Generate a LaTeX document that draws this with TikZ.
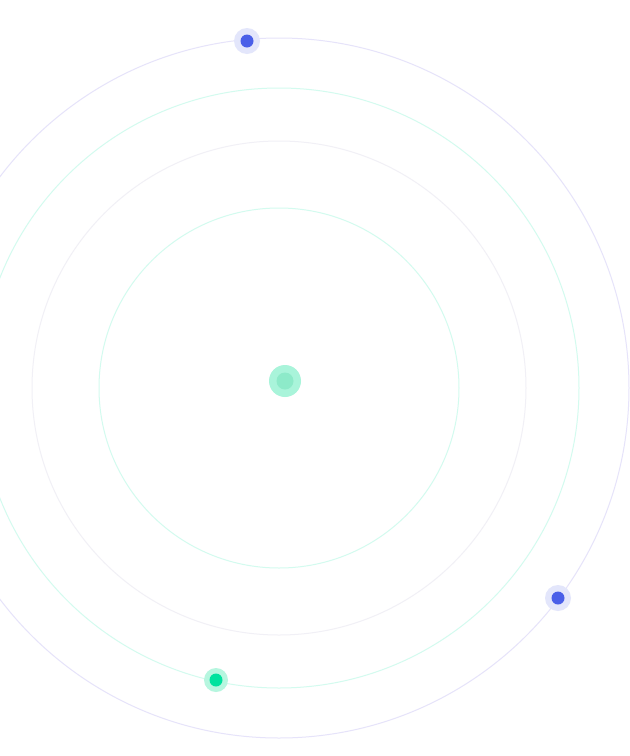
\documentclass[tikz,border=0pt]{standalone}
\begin{document}
\begin{tikzpicture}[x=1pt,y=-1pt,
  ring/.style={line width=1pt},
  halo/.style={circle,inner sep=0pt,minimum size=#1},
  ]
\definecolor{lav}{HTML}{E6E3FA}
\definecolor{mint}{HTML}{D3FBEF}
\definecolor{grayring}{HTML}{F1F0F6}
\definecolor{bluedot}{HTML}{4A5FE8}
\definecolor{bluehalo}{HTML}{E3E6FB}
\definecolor{greendot}{HTML}{00E29E}
\definecolor{greenhalo}{HTML}{B6F6DF}
\definecolor{cout}{HTML}{A9F4DA}
\definecolor{cin}{HTML}{8DEAC9}
\useasboundingbox[fill=white] (0,0) rectangle (630,756);
\coordinate (c) at (279,388);
\draw[ring,lav] (c) circle (350);
\draw[ring,mint] (c) circle (300);
\draw[ring,grayring] (c) circle (247);
\draw[ring,mint] (c) circle (180);
% center
\node[halo=32pt,fill=cout] (ctr) at (285,381) {};
\node[halo=17pt,fill=cin] (ctri) at (285,381) {};
% blue top
\node[halo=26pt,fill=bluehalo] (b1h) at (247,41) {};
\node[halo=13pt,fill=bluedot] (b1) at (247,41) {};
% blue right
\node[halo=26pt,fill=bluehalo] (b2h) at (558,598) {};
\node[halo=13pt,fill=bluedot] (b2) at (558,598) {};
% green bottom
\node[halo=24pt,fill=greenhalo] (g1h) at (216,680) {};
\node[halo=13pt,fill=greendot] (g1) at (216,680) {};
\end{tikzpicture}
\end{document}
